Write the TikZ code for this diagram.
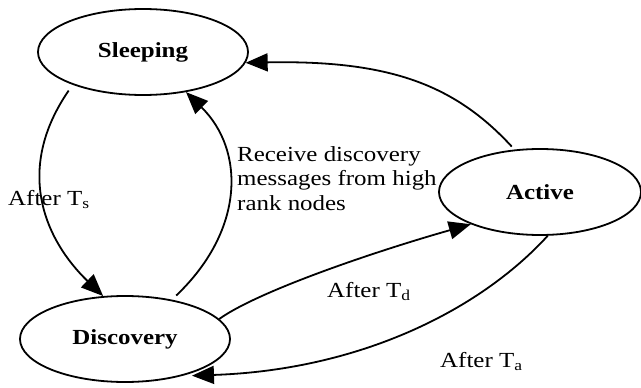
\documentclass[tikz,border=0pt]{standalone}
\usepackage{graphicx}
\usepackage{fontspec}
\setmainfont{Liberation Serif}
\usetikzlibrary{shapes.geometric,arrows.meta}
\newcommand{\wide}[1]{\scalebox{1.16}[1]{#1}}
\begin{document}
\begin{tikzpicture}[x=1pt,y=-1pt,
  state/.style={draw, line width=1.8pt, ellipse, minimum width=210pt, minimum height=86pt, inner sep=0pt, font=\fontsize{21.5}{24.5}\selectfont\bfseries},
  lbl/.style={anchor=base west, inner sep=0pt, font=\fontsize{21.5}{24.5}\selectfont},
  trans/.style={line width=1.8pt, -{Triangle[length=22pt,width=18pt]}}
]
\useasboundingbox (0,0) rectangle (641,388);
\node[state] (S) at (143,52) {\wide{Sleeping}};
\node[state, minimum width=202pt] (A) at (540,192) {\wide{Active}};
\node[state] (D) at (125,339) {\wide{Discovery}};

\draw[trans, shorten <=7pt] (S.205) .. controls (14,170) and (45,240) .. (D.117);
\draw[trans, shorten <=6pt] (D.40) .. controls (245,230) and (245,150) .. (S.317);
\draw[trans, shorten <=4pt] (A.121) .. controls (455,85) and (390,60) .. (S.354);
\draw[trans] (D.12) .. controls (260,290) and (380,250) .. (A.205);
\draw[trans, shorten >=10pt] (A.280) .. controls (480,310) and (360,370) .. (D.327);

\node[lbl] (ts) at (8,205) {\wide{After T\textsubscript{s}}};
\node[lbl] (rc) at (237,161) {\wide{\begin{tabular}[t]{@{}l@{}}Receive discovery\\ messages from high\\ rank nodes\end{tabular}}};
\node[lbl] (td) at (327,297) {\wide{After T\textsubscript{d}}};
\node[lbl] (ta) at (440,367) {\wide{After T\textsubscript{a}}};
\end{tikzpicture}
\end{document}
